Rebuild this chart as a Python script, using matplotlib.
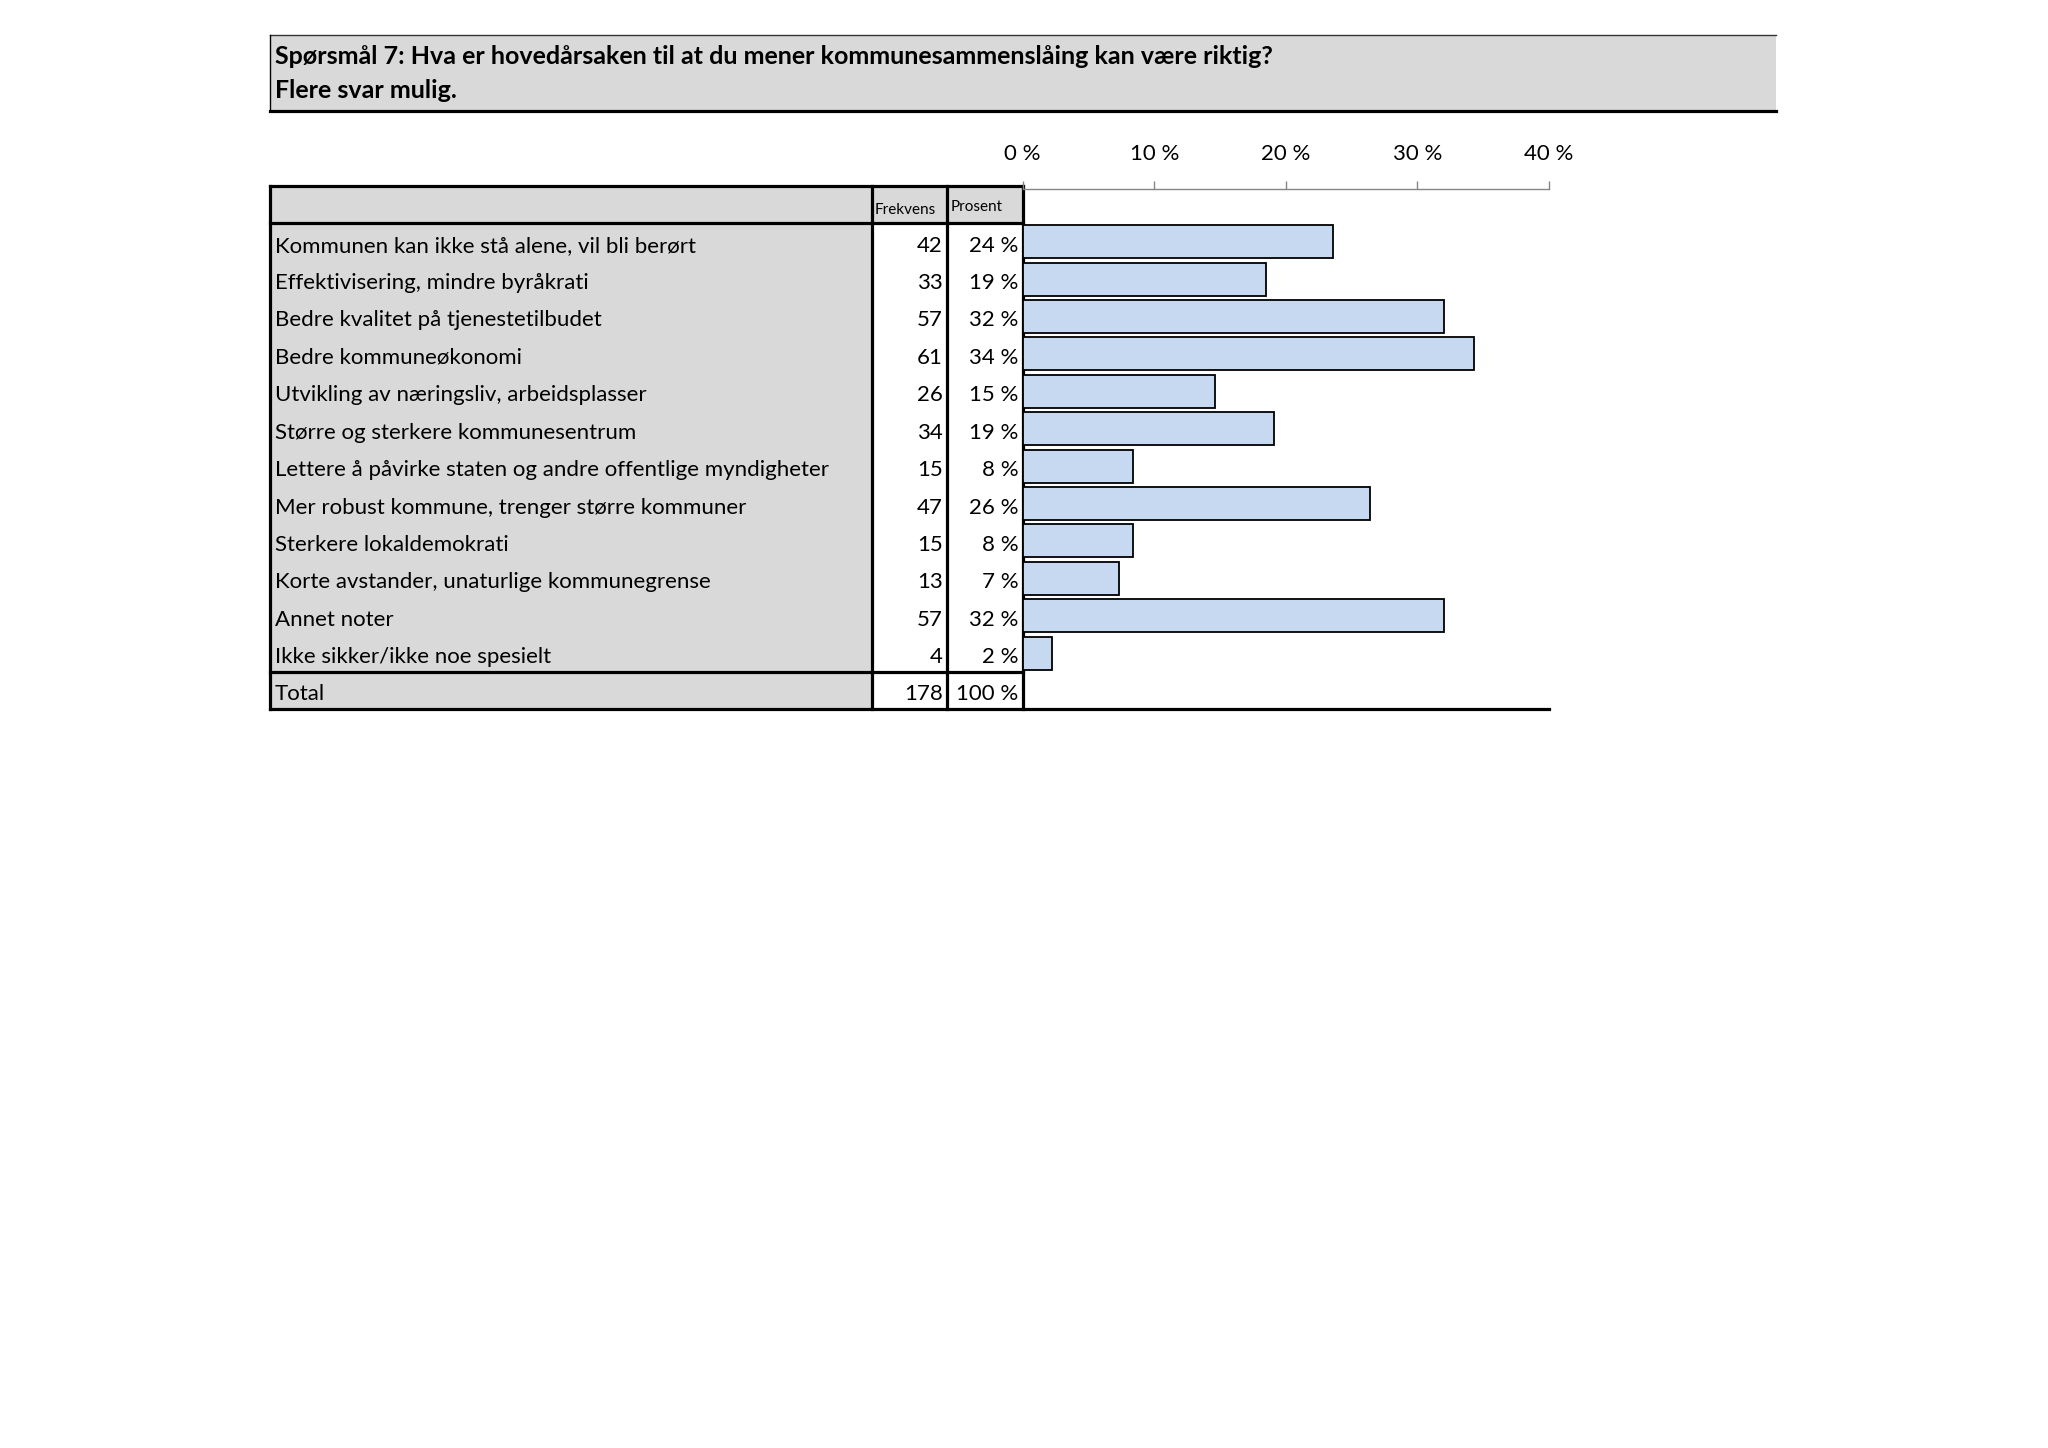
import matplotlib
matplotlib.use('Agg')
import matplotlib.pyplot as plt
from matplotlib.patches import Rectangle

plt.rcParams['font.family'] = ['Lato', 'DejaVu Sans']

# Data lest av figuren
tittel = ['Spørsmål 7: Hva er hovedårsaken til at du mener kommunesammenslåing kan være riktig?',
          'Flere svar mulig.']
kategorier = ['Kommunen kan ikke stå alene, vil bli berørt',
              'Effektivisering, mindre byråkrati',
              'Bedre kvalitet på tjenestetilbudet',
              'Bedre kommuneøkonomi',
              'Utvikling av næringsliv, arbeidsplasser',
              'Større og sterkere kommunesentrum',
              'Lettere å påvirke staten og andre offentlige myndigheter',
              'Mer robust kommune, trenger større kommuner',
              'Sterkere lokaldemokrati',
              'Korte avstander, unaturlige kommunegrense',
              'Annet noter',
              'Ikke sikker/ikke noe spesielt']
frekvens = [42, 33, 57, 61, 26, 34, 15, 47, 15, 13, 57, 4]
prosent = [23.6, 18.5, 32.0, 34.3, 14.6, 19.1, 8.4, 26.4, 8.4, 7.3, 32.0, 2.2]
prosent_tekst = ['24 %', '19 %', '32 %', '34 %', '15 %', '19 %', '8 %', '26 %', '8 %', '7 %', '32 %', '2 %']
total_frekvens = 178
total_prosent = '100 %'
akse_ticks = [0, 10, 20, 30, 40]

# Layout (piksler)
W, H = 2048, 1448
grå = '#D9D9D9'
blå = '#C6D9F1'
x0, x1, x2, x3, xslutt, xtittel = 270, 872, 947, 1022.6, 1549, 1776
y_tittel_topp, y_tittel_bunn = 35, 111
y_topp, y_rad0 = 186, 223
radhøyde = 37.4
n = len(kategorier)
y_rad_slutt = y_rad0 + n * radhøyde
y_bunn = y_rad_slutt + radhøyde
tykk = 2.3
tynn = 1.0
fs = 16

fig = plt.figure(figsize=(W / 100, H / 100), dpi=100)
bg = fig.add_axes([0, 0, 1, 1])
bg.set_xlim(0, W)
bg.set_ylim(H, 0)
bg.axis('off')

# Tittelboks
bg.add_patch(Rectangle((x0, y_tittel_topp), xtittel - x0, y_tittel_bunn - y_tittel_topp, color=grå, lw=0))
bg.plot([x0, xtittel], [y_tittel_topp, y_tittel_topp], color='#333333', lw=tynn)
bg.plot([x0, x0], [y_tittel_topp, y_tittel_bunn], color='black', lw=tynn)
bg.plot([x0, xtittel], [y_tittel_bunn, y_tittel_bunn], color='black', lw=tykk)
bg.text(x0 + 5, 57, tittel[0], fontsize=18, fontweight='bold', va='center', ha='left')
bg.text(x0 + 5, 91, tittel[1], fontsize=18, fontweight='bold', va='center', ha='left')

# Tabell
bg.add_patch(Rectangle((x0, y_topp), x1 - x0, y_bunn - y_topp, color=grå, lw=0))
bg.add_patch(Rectangle((x1, y_topp), x3 - x1, y_rad0 - y_topp, color=grå, lw=0))
for x in [x0, x1, x2, x3]:
    bg.plot([x, x], [y_topp, y_bunn], color='black', lw=tykk, solid_capstyle='projecting')
for y in [y_topp, y_rad0, y_rad_slutt]:
    bg.plot([x0, x3], [y, y], color='black', lw=tykk, solid_capstyle='projecting')
bg.plot([x0, xslutt], [y_bunn, y_bunn], color='black', lw=tykk, solid_capstyle='projecting')

bg.text(x1 + 3, 210, 'Frekvens', fontsize=11, va='center', ha='left')
bg.text(x2 + 4, 207, 'Prosent', fontsize=11, va='center', ha='left')

for i in range(n):
    yc = y_rad0 + radhøyde * (i + 0.5) + 4
    bg.text(x0 + 5, yc, kategorier[i], fontsize=fs, va='center', ha='left')
    bg.text(x2 - 4, yc, str(frekvens[i]), fontsize=fs, va='center', ha='right')
    bg.text(x3 - 4, yc, prosent_tekst[i], fontsize=fs, va='center', ha='right')
yc = y_rad_slutt + radhøyde / 2 + 4
bg.text(x0 + 5, yc, 'Total', fontsize=fs, va='center', ha='left')
bg.text(x2 - 4, yc, str(total_frekvens), fontsize=fs, va='center', ha='right')
bg.text(x3 - 4, yc, total_prosent, fontsize=fs, va='center', ha='right')

# Stolpediagram
ax = fig.add_axes([x3 / W, 1 - y_rad_slutt / H, (xslutt - x3) / W, (y_rad_slutt - y_rad0) / H])
ax.patch.set_visible(False)
ax.barh(range(n), prosent, height=0.88, color=blå, edgecolor='black', linewidth=1.3, zorder=3)
ax.set_xlim(0, 40)
ax.set_ylim(n - 0.5, -0.5)
ax.set_yticks([])
ax.xaxis.tick_top()
ax.set_xticks(akse_ticks)
ax.set_xticklabels([f'{v} %' for v in akse_ticks])
for s in ['left', 'right', 'bottom']:
    ax.spines[s].set_visible(False)
ax.spines['top'].set_position(('outward', 24.5))
ax.spines['top'].set_color('#868686')
ax.spines['top'].set_linewidth(1.0)
ax.tick_params(axis='x', direction='out', length=6, width=1.0, color='#868686',
               pad=12, labelsize=fs)

fig.savefig('out.png', dpi=100)
